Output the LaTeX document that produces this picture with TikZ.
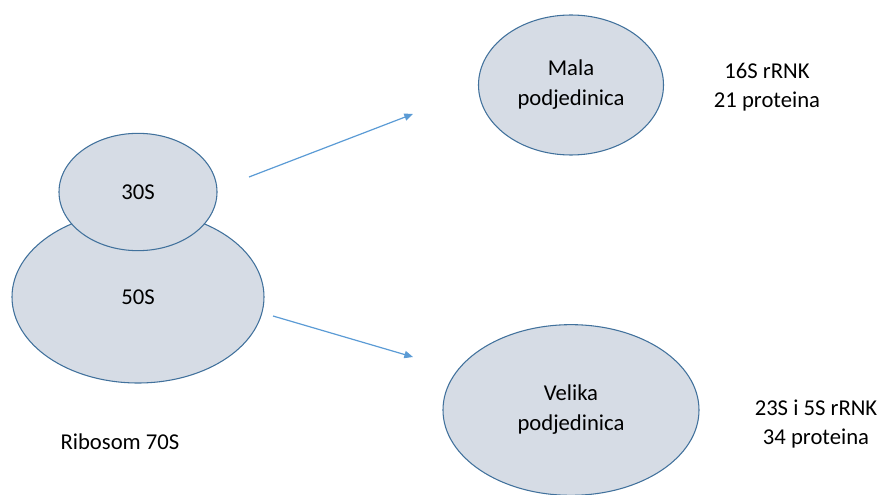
\documentclass[tikz,border=0pt]{standalone}
\usepackage{fontspec}
\setmainfont{Carlito}
\usetikzlibrary{
    arrows.meta,
    positioning,
    shapes.geometric
}
\definecolor{subfill}{RGB}{214,220,229}
\definecolor{subline}{RGB}{65,113,156}
\definecolor{arrowblue}{RGB}{91,155,213}

\begin{document}
\begin{tikzpicture}[x=0.75pt, y=-0.75pt,
    unit/.style={ellipse, draw=subline, fill=subfill, line width=0.8pt,
        inner sep=0pt, align=center, font=\fontsize{17}{22.5}\selectfont},
    info/.style={align=center, font=\fontsize{17}{22}\selectfont},
    split/.style={draw=arrowblue, line width=0.9pt,
        -{Triangle[length=6.5pt, width=5.5pt]}}
]
\useasboundingbox (0,0) rectangle (883,495);

% === LEFT: Ribosom 70S ===
\node[unit, minimum width=189pt, minimum height=129pt] (big) at (138,297) {50S};
\node[unit, minimum width=118.5pt, minimum height=88pt] (small) at (138,192) {30S};
\node[info] (ribo) at (120,442) {Ribosom 70S};

% === RIGHT: subunits ===
\node[unit, minimum width=138.75pt, minimum height=105pt] (mala) at (571,85) {Mala\\podjedinica};
\node[info] (malainfo) at (767,87) {16S rRNK\\21 proteina};

\node[unit, minimum width=192pt, minimum height=128pt] (velika) at (571,410) {Velika\\podjedinica};
\node[info] (velikainfo) at (816,424) {23S i 5S rRNK\\34 proteina};

% arrows
\coordinate (up1) at (249,177);
\coordinate (up2) at (413,114);
\coordinate (dn1) at (273,316);
\coordinate (dn2) at (413,357);
\draw[split] (up1) -- (up2);
\draw[split] (dn1) -- (dn2);

\end{tikzpicture}
\end{document}
